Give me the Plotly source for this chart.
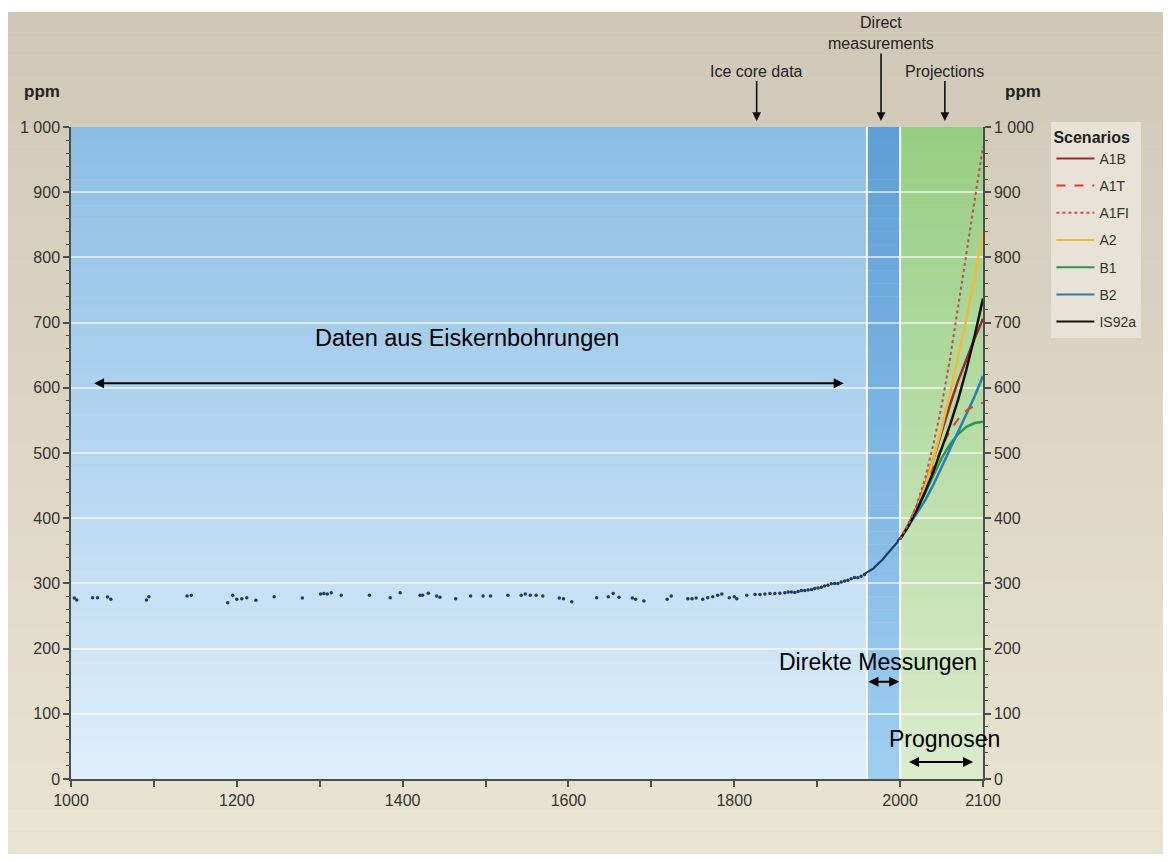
import plotly.graph_objects as go

# ---------------- data ----------------
ice_years = [1004, 1007, 1026, 1032, 1044, 1048, 1091, 1094, 1140, 1145, 1189, 1195, 1200,
             1206, 1212, 1223, 1245, 1279, 1301, 1305, 1309, 1314, 1326, 1360, 1385, 1397,
             1421, 1424, 1431, 1441, 1445, 1464, 1482, 1497, 1506, 1527, 1543, 1548, 1554,
             1561, 1569, 1589, 1594, 1604, 1634, 1648, 1654, 1661, 1677, 1681, 1691, 1719,
             1724, 1744, 1749, 1754, 1762, 1768, 1774, 1780, 1785, 1794, 1800, 1803, 1815,
             1825, 1831, 1837, 1843, 1849, 1855, 1861, 1865, 1869, 1873, 1877, 1881, 1885,
             1889, 1893, 1897, 1901, 1905, 1909, 1913, 1917, 1921, 1925, 1929, 1933, 1937,
             1941, 1945, 1949, 1953, 1957]
ice_ppm = [277.6, 274.5, 278, 278, 279, 275.6, 274.5, 279.6, 280.7, 281.7, 270.4, 281.7, 275.6,
           276.6, 278, 274, 279.6, 277.6, 283.7, 284.7, 283.7, 285.7, 281.7, 281.7, 278, 285.7,
           281.7, 282, 284.8, 280.7, 278.6, 276.6, 280.7, 280.7, 280.7, 281.7, 281.7, 283.7, 281.7,
           281.7, 280.7, 277.6, 276.6, 272, 278, 279.6, 284.7, 278.6, 277.6, 275.6, 273, 275.6,
           280.7, 276.6, 276.6, 277.6, 275.6, 278, 279.6, 281.7, 283.7, 278, 279.6, 276.6, 281.7,
           283, 283, 283.7, 284.7, 284.7, 285, 285.7, 287, 286.7, 286, 287.7, 289, 289.2,
           290, 290.8, 292, 292.8, 294, 295.9, 297, 299.4, 300, 300, 302, 303.5, 305,
           307, 309, 308.6, 311, 313.7]

direct_years = list(range(1958, 2001))
direct_ppm = [315.3, 316.0, 316.9, 317.6, 318.5, 319.0, 319.6, 320.0, 321.4, 322.2, 323.0,
              324.6, 325.7, 326.3, 327.5, 329.7, 330.2, 331.1, 332.0, 333.8, 335.4, 336.8,
              338.7, 340.1, 341.4, 343.0, 344.6, 346.0, 347.4, 349.2, 351.6, 353.1, 354.4,
              355.6, 356.4, 357.1, 358.8, 360.8, 362.6, 363.7, 366.7, 368.4, 369.7]

proj_years = [2000, 2010, 2020, 2030, 2040, 2050, 2060, 2070, 2080, 2090, 2100]
scen_A1B = [368, 390, 417, 451, 490, 532, 573, 611, 645, 676, 706]
scen_A1T = [368, 389, 415, 445, 478, 508, 534, 552, 565, 573, 577]
scen_A1FI = [368, 391, 420, 460, 512, 572, 643, 721, 806, 888, 970]
scen_A2 = [368, 389, 415, 449, 490, 537, 590, 646, 706, 770, 840]
scen_B1 = [368, 388, 411, 437, 465, 492, 513, 529, 540, 546, 548]
scen_B2 = [368, 387, 406, 427, 451, 478, 506, 533, 559, 587, 618]
scen_IS92a = [368, 388, 412, 440, 471, 505, 542, 582, 628, 680, 737]

scenario_names = ["A1B", "A1T", "A1FI", "A2", "B1", "B2", "IS92a"]
scenario_values = [scen_A1B, scen_A1T, scen_A1FI, scen_A2, scen_B1, scen_B2, scen_IS92a]

y_ticks = [0, 100, 200, 300, 400, 500, 600, 700, 800, 900, 1000]
y_tick_text = ["0", "100", "200", "300", "400", "500", "600", "700", "800", "900", "1 000"]
x_ticks = [1000, 1100, 1200, 1300, 1400, 1500, 1600, 1700, 1800, 1900, 2000, 2100]
x_tick_text = ["1000", "", "1200", "", "1400", "", "1600", "", "1800", "", "2000", "2100"]

# ---------------- styles ----------------
scen_styles = {
    "A1B": dict(color="#9a2a2e", dash="solid", width=2.5),
    "A1T": dict(color="#e0402f", dash="dash", width=2),
    "A1FI": dict(color="#c0504a", dash="dot", width=2),
    "A2": dict(color="#f2b93a", dash="solid", width=2.5),
    "B1": dict(color="#2e9550", dash="solid", width=2.5),
    "B2": dict(color="#2a7db5", dash="solid", width=2.5),
    "IS92a": dict(color="#111111", dash="solid", width=2.5),
}

FONT = "Liberation Sans, Arial, sans-serif"

fig = go.Figure()

fig.add_trace(go.Scatter(x=ice_years, y=ice_ppm, mode="markers",
                         marker=dict(color="#1d3b66", size=3.5),
                         showlegend=False, hoverinfo="skip"))
fig.add_trace(go.Scatter(x=direct_years, y=direct_ppm, mode="lines",
                         line=dict(color="#1d3b66", width=2.2),
                         showlegend=False, hoverinfo="skip"))

draw_order = ["B1", "B2", "A1T", "A1B", "A2", "IS92a", "A1FI"]
for name in draw_order:
    vals = scenario_values[scenario_names.index(name)]
    st = scen_styles[name]
    fig.add_trace(go.Scatter(x=proj_years, y=vals, mode="lines", name=name,
                             line=dict(color=st["color"], dash=st["dash"], width=st["width"]),
                             showlegend=False, hoverinfo="skip"))
for name in scenario_names:
    st = scen_styles[name]
    fig.add_trace(go.Scatter(x=[None], y=[None], mode="lines", name=name,
                             legendgroup=name,
                             line=dict(color=st["color"], dash=st["dash"], width=2)))
fig.add_trace(go.Scatter(x=[None], y=[None], yaxis="y2", showlegend=False, hoverinfo="skip"))


def lerp(c1, c2, t):
    return "rgb(%d,%d,%d)" % tuple(round(a + (b - a) * t) for a, b in zip(c1, c2))


shapes = []
N = 40
py0, py1 = -0.15, 1.25
for i in range(N):
    t = i / (N - 1)
    ya = py1 - (py1 - py0) * i / N
    yb = py1 - (py1 - py0) * (i + 1) / N
    shapes.append(dict(type="rect", xref="paper", yref="paper", x0=-0.1, x1=1.25,
                       y0=yb, y1=ya, fillcolor=lerp((207, 199, 181), (234, 228, 210), t),
                       line=dict(width=0), layer="below"))
shapes.append(dict(type="rect", xref="paper", yref="paper", x0=-0.1, x1=1.25,
                   y0=(779 - 12) / 652, y1=1.25, fillcolor="white", line=dict(width=0), layer="below"))

regions = [
    (1000, 1960, (140, 190, 229), (222, 238, 251)),
    (1960, 2000, (95, 158, 214), (160, 206, 241)),
    (2000, 2100, (152, 206, 132), (218, 236, 204)),
]
M = 50
for x0, x1, ctop, cbot in regions:
    for i in range(M):
        t = i / (M - 1)
        ya = 1000 - 1000 * i / M
        yb = 1000 - 1000 * (i + 1) / M
        shapes.append(dict(type="rect", xref="x", yref="y", x0=x0, x1=x1, y0=yb - 0.5, y1=ya,
                           fillcolor=lerp(ctop, cbot, t), line=dict(width=0), layer="below"))
for xv in [1960, 2000]:
    shapes.append(dict(type="line", xref="x", yref="y", x0=xv, x1=xv, y0=0, y1=1000,
                       line=dict(color="rgba(255,255,255,0.9)", width=2), layer="below"))

ARROW_TIP = (779 - 121) / 652
annotations = [
    dict(x=1827, y=ARROW_TIP, xref="x", yref="paper", ax=0, ay=-50, text="Ice core data",
         showarrow=True, arrowhead=2, arrowsize=1.1, arrowwidth=1.6, arrowcolor="#111",
         font=dict(size=16, color="#222", family=FONT)),
    dict(x=1977, y=ARROW_TIP, xref="x", yref="paper", ax=0, ay=-88, text="Direct<br>measurements",
         showarrow=True, arrowhead=2, arrowsize=1.1, arrowwidth=1.6, arrowcolor="#111",
         font=dict(size=16, color="#222", family=FONT)),
    dict(x=2054, y=ARROW_TIP, xref="x", yref="paper", ax=0, ay=-50, text="Projections",
         showarrow=True, arrowhead=2, arrowsize=1.1, arrowwidth=1.6, arrowcolor="#111",
         font=dict(size=16, color="#222", family=FONT)),
    dict(x=(34 - 63) / 920, y=(779 - 92) / 652, xref="paper", yref="paper", text="<b>ppm</b>",
         xanchor="center", yanchor="middle",
         showarrow=False, font=dict(size=17, color="#222", family=FONT)),
    dict(x=(1023 - 63) / 920, y=(779 - 92) / 652, xref="paper", yref="paper", text="<b>ppm</b>",
         xanchor="center", yanchor="middle",
         showarrow=False, font=dict(size=17, color="#222", family=FONT)),
    dict(x=1478, y=676, xref="x", yref="y", text="Daten aus Eiskernbohrungen", showarrow=False,
         font=dict(size=23.5, color="black", family=FONT)),
    dict(x=1932, y=607, ax=1026, ay=607, xref="x", yref="y", axref="x", ayref="y", text="",
         showarrow=True, arrowhead=2, startarrowhead=2, arrowside="end+start",
         arrowwidth=2, arrowsize=1, startarrowsize=1, arrowcolor="black"),
    dict(x=1973, y=179, xref="x", yref="y", text="Direkte Messungen", showarrow=False,
         font=dict(size=23, color="black", family=FONT)),
    dict(x=1999, y=149, ax=1960, ay=149, xref="x", yref="y", axref="x", ayref="y", text="",
         showarrow=True, arrowhead=2, startarrowhead=2, arrowside="end+start",
         arrowwidth=2, arrowsize=1, startarrowsize=1, arrowcolor="black"),
    dict(x=2054, y=61, xref="x", yref="y", text="Prognosen", showarrow=False,
         font=dict(size=23, color="black", family=FONT)),
    dict(x=2088, y=26, ax=2009, ay=26, xref="x", yref="y", axref="x", ayref="y", text="",
         showarrow=True, arrowhead=2, startarrowhead=2, arrowside="end+start",
         arrowwidth=2, arrowsize=1, startarrowsize=1, arrowcolor="black"),
]

axis_common = dict(range=[0, 1000], tickvals=y_ticks, ticktext=y_tick_text,
                   ticks="outside", ticklen=6, tickwidth=1.5, tickcolor="#4a4f4a",
                   showline=True, linecolor="#4a4f4a", linewidth=1.5,
                   tickfont=dict(size=16, color="#333", family=FONT),
                   minor=dict(dtick=20, ticks="outside", ticklen=3, tickcolor="#4a4f4a",
                              tickwidth=1, showgrid=False),
                   zeroline=False, fixedrange=True)

fig.update_layout(
    margin=dict(l=55, r=180, t=119, b=75),
    paper_bgcolor="#ddd6c4",
    plot_bgcolor="rgba(0,0,0,0)",
    font=dict(family=FONT),
    xaxis=dict(range=[1000, 2100], tickvals=x_ticks, ticktext=x_tick_text,
               ticks="outside", ticklen=6, tickwidth=1.5, tickcolor="#4a4f4a",
               showline=True, linecolor="#4a4f4a", linewidth=2, showgrid=False,
               zeroline=False, tickfont=dict(size=16, color="#333", family=FONT),
               fixedrange=True),
    yaxis=dict(**axis_common, showgrid=True, gridcolor="rgba(255,255,255,0.6)", gridwidth=1.5),
    yaxis2=dict(**axis_common, overlaying="y", side="right", showgrid=False),
    shapes=shapes,
    annotations=annotations,
    legend=dict(x=(1052 - 63) / 920, y=(779 - 122) / 652, xanchor="left", yanchor="top",
                bgcolor="#e8e3d6", borderwidth=0,
                title=dict(text="<b>Scenarios</b>", font=dict(size=16, color="#222", family=FONT)),
                font=dict(size=14, color="#333", family=FONT),
                itemwidth=38, tracegroupgap=6, traceorder="grouped",
                entrywidth=70),
    showlegend=True,
)

fig.write_html("out.html")
